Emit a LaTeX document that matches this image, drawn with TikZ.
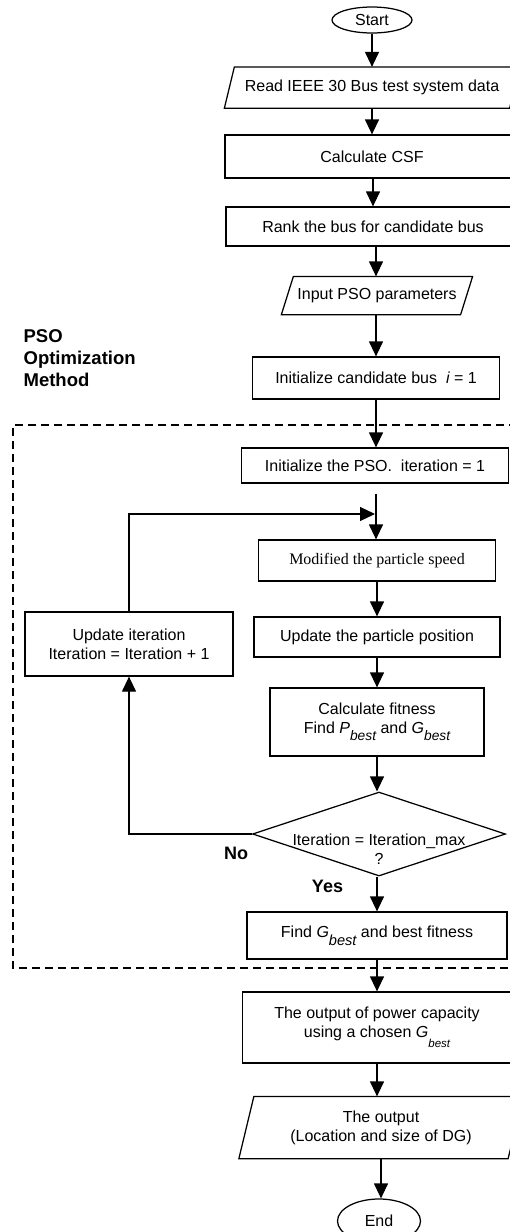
\documentclass[tikz,border=0pt]{standalone}
\usepackage{fontspec}
\setmainfont{Liberation Sans}
\newfontfamily\tnr{Liberation Serif}
\usetikzlibrary{arrows.meta,shapes.geometric,calc}
\newcommand\subbest[3]{{\itshape #1}\raisebox{-#3}{\fontsize{#2}{#2}\selectfont\itshape best}}
\begin{document}
\begin{tikzpicture}[x=1pt,y=-1pt,line width=1.25pt,
  >={Triangle[length=15pt,width=14pt]},
  base/.style={font=\fontsize{16}{19}\selectfont, align=center, inner sep=0pt},
  proc/.style={base, draw, rectangle},
  iobox/.style={base, rectangle, draw=none},
  term/.style={base, draw, ellipse},
  decision/.style={base, draw, diamond},
  lbl/.style={inner sep=0pt, font=\bfseries\fontsize{18}{22}\selectfont},
  group/.style={dash pattern=on 8pt off 5pt, line width=1.1pt}]
\useasboundingbox (0,0) rectangle (510,1232);

% dashed group frame
\draw[group] (530,425) -- (13,425) -- (13,968) -- (530,968);

\node[term, minimum width=80pt, minimum height=26pt] (start) at (372,20) {Start};
\node[iobox, minimum width=284pt, minimum height=40pt] (read) at (372,87.5) {Read IEEE 30 Bus test system data};
\draw ($(read.north west)+(5,0)$) -- ($(read.north east)+(5,0)$) -- ($(read.south east)+(-5,0)$) -- ($(read.south west)+(-5,0)$) -- cycle;
\node[proc, minimum width=294pt, minimum height=43pt] (csf) at (372,156.5) {Calculate CSF};
\node[proc, minimum width=294pt, minimum height=39pt] (rank) at (373,226.5) {Rank the bus for candidate bus};
\node[iobox, minimum width=178pt, minimum height=37pt] (input) at (377,295.5) {Input PSO parameters};
\draw ($(input.north west)+(6,0)$) -- ($(input.north east)+(6,0)$) -- ($(input.south east)+(-6,0)$) -- ($(input.south west)+(-6,0)$) -- cycle;
\node[proc, minimum width=247pt, minimum height=42pt] (initc) at (376,378) {Initialize candidate bus\ \ {\itshape i} = 1};
\node[proc, minimum width=267pt, minimum height=35pt] (initp) at (375,465.5) {Initialize the PSO.\ \ iteration = 1};
\node[proc, minimum width=237pt, minimum height=41pt] (mod) at (377,560.5) {\tnr Modified the particle speed};
\node[proc, minimum width=246pt, minimum height=40pt] (upos) at (377,637) {Update the particle position};
\node[proc, minimum width=214pt, minimum height=68pt] (fit) at (377,722) {Calculate fitness\\Find \subbest{P}{13.8pt}{7.5pt} and \subbest{G}{13.8pt}{7.5pt}};
\node[decision, minimum width=253pt, minimum height=84pt] (dec) at (379,834) {};
\node[base] (dectext) at (379,849) {Iteration = Iteration\_max\\?};
\node[proc, minimum width=260pt, minimum height=47pt] (gbest) at (377,935.5) {Find \subbest{G}{14.6pt}{8pt} and best fitness};
\node[proc, minimum width=269pt, minimum height=71pt] (outp) at (377,1027.5) {The output of power capacity\\using a chosen \subbest{G}{11.5pt}{10pt}};
\node[iobox, minimum width=268pt, minimum height=61pt] (outdg) at (381,1127.5) {The output\\(Location and size of DG)};
\draw ($(outdg.north west)+(7.5,0)$) -- ($(outdg.north east)+(7.5,0)$) -- ($(outdg.south east)+(-7.5,0)$) -- ($(outdg.south west)+(-7.5,0)$) -- cycle;
\node[term, minimum width=83pt, minimum height=44pt] (end) at (379,1221) {End};
\node[proc, minimum width=208pt, minimum height=64pt] (upd) at (129,644) {Update iteration\\Iteration = Iteration + 1};

\node[anchor=north west, inner sep=0pt, align=left, font=\bfseries\fontsize{18.5}{22}\selectfont] (pso) at (23,329) {PSO\\Optimization\\Method};
\node[lbl] (no) at (236,853) {No};
\node[lbl] (yes) at (327.5,886.5) {Yes};

\coordinate (join) at (initp.south |- 0,514);

\draw[->] (start.south) -- (start.south |- read.north);
\draw[->] (read.south) -- (read.south |- csf.north);
\draw[->] ([xshift=1pt]csf.south) -- ([xshift=1pt]csf.south |- rank.north);
\draw[->] ([xshift=3pt]rank.south) -- ([xshift=3pt]rank.south |- input.north);
\draw[->] ([xshift=-1pt]input.south) -- ([xshift=-1pt]input.south |- initc.north);
\draw[->] (initc.south) -- (initc.south |- initp.north);
\draw[->, shorten <=10pt] ([xshift=1pt]initp.south) -- ([xshift=1pt]initp.south |- mod.north);
\draw[->] (mod.south) -- (mod.south |- upos.north);
\draw[->] (upos.south) -- (upos.south |- fit.north);
\draw[->] (fit.south) -- (fit.south |- dec.north);
\draw[->] ([xshift=-2pt]dec.south) -- ([xshift=-2pt]dec.south |- gbest.north);
\draw[->] (gbest.south) -- (gbest.south |- outp.north);
\draw[->] (outp.south) -- (outp.south |- outdg.north);
\draw[->] (outdg.south) -- (outdg.south |- end.north);
\draw[->, shorten >=1pt] (upd.north) |- ([xshift=1pt]join);
\draw[->] (dec.west) -| (upd.south);
\end{tikzpicture}
\end{document}
